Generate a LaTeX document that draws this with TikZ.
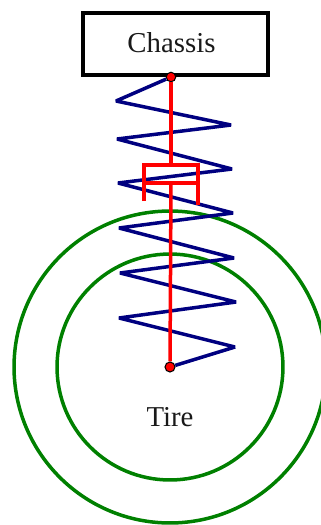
\documentclass[tikz,border=0pt]{standalone}
\usepackage{fontspec}
\setmainfont{Liberation Serif}
\usetikzlibrary{positioning}

\definecolor{springblue}{RGB}{0,0,128}
\definecolor{tiregreen}{RGB}{0,128,0}

\tikzset{
  ring/.style={circle, draw=tiregreen, line width=0.07cm, inner sep=0pt},
  caption/.style={font=\fontsize{16.4}{18}\selectfont, text=black!90},
  pivot/.style={circle, draw=black, fill=red, line width=0.6pt, inner sep=0pt},
  coil/.style={draw=springblue, line width=0.07cm, line join=bevel},
  damper/.style={draw=red, line width=0.07cm}
}

\begin{document}
\begin{tikzpicture}[x=0.02cm, y=-0.02cm]

\useasboundingbox (0,0) rectangle (321,525);

\coordinate (center) at (170,367);

\node[ring, minimum size=6.24cm] (outer) at (center) {};
\node[ring, minimum size=4.52cm] (inner) at (center) {};

\node[draw, line width=0.08cm, minimum width=3.7cm, minimum height=1.26cm, inner sep=0pt] (chassis) at (175.5,44) {};
\node[caption] (chassistext) at (171.5,43) {Chassis};
\node[caption] (tire) at (170,417) {Tire};

\node[pivot, minimum size=0.19cm] (top) at (171,77) {};
\node[pivot, minimum size=0.2cm] (hub) at (170,367) {};

% spring
\coordinate (s1) at (116,101);
\coordinate (s2) at (231,125);
\coordinate (s3) at (117,139);
\coordinate (s4) at (232,169);
\coordinate (s5) at (118,183);
\coordinate (s6) at (233,213);
\coordinate (s7) at (119,228);
\coordinate (s8) at (234,258);
\coordinate (s9) at (120,273);
\coordinate (s10) at (236,302);
\coordinate (s11) at (119,318);
\coordinate (s12) at (235,347);

\draw[coil] (top)--(s1)--(s2)--(s3)--(s4)--(s5)--(s6)--(s7)--(s8)--(s9)--(s10)--(s11)--(s12)--(hub);

% damper
\coordinate (cupmid) at (171,165);
\coordinate (cupleft) at (144,165);
\coordinate (cupright) at (198,165);
\coordinate (cuplefttip) at (144,201);
\coordinate (cuprighttip) at (198,205);
\coordinate (rodmid) at (171,183);
\coordinate (rodleft) at (144,183);
\coordinate (rodright) at (198,183);

\draw[damper] (top)--(cupmid);
\draw[damper] (cuplefttip)--(cupleft)--(cupright)--(cuprighttip);
\draw[damper] (rodleft)--(rodright);
\draw[damper] (rodmid)--(hub);

\end{tikzpicture}
\end{document}
